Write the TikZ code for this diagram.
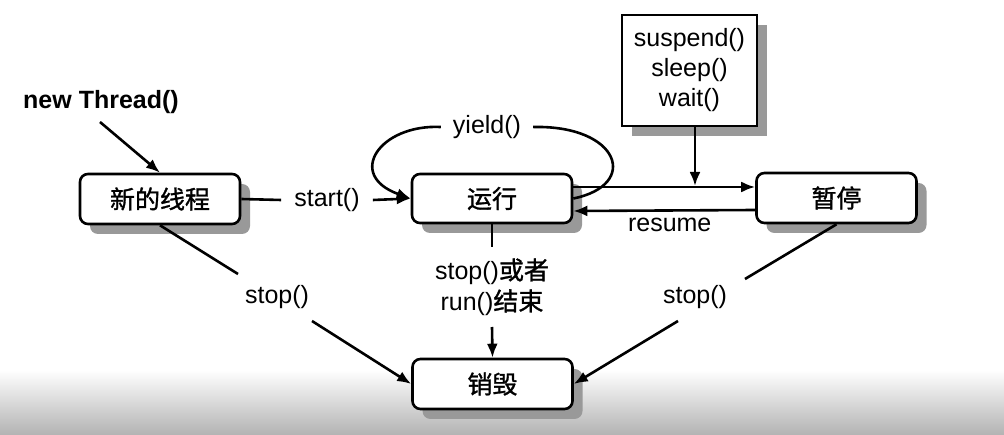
\documentclass[tikz,border=0pt]{standalone}
\usepackage{fontspec}
\setmainfont{Liberation Sans}
\newfontfamily\cjk[FakeBold=1.2]{Noto Sans CJK SC}
\usetikzlibrary{arrows.meta,shadows}
\begin{document}
\begin{tikzpicture}[x=1pt,y=-1pt,
  txt/.style={font=\fontsize{25}{31}\selectfont, inner sep=2pt},
  state/.style={draw, line width=2.6pt, rounded corners=8pt, fill=white,
    minimum width=160pt, minimum height=50pt, font=\cjk\fontsize{25}{30}\selectfont,
    drop shadow={shadow xshift=10pt, shadow yshift=-10pt, fill=black!40, opacity=1}},
  conn/.style={line width=2.6pt},
  arr/.style={conn, -{Latex[length=14pt,width=11pt]}}
]
\fill[white] (0,0) rectangle (1004,435);
\useasboundingbox (0,0) rectangle (1004,435);
\shade[top color=white, bottom color=black!30] (0,370) rectangle (1004,435);

% nodes
\node[state] (new) at (160,199) {新的线程};
\node[state, minimum height=49pt] (run) at (492,198.5) {运行};
\node[state] (pause) at (836.5,198) {暂停};
\node[state] (dead) at (492.5,384) {销毁};
\node[draw, line width=2.6pt, fill=white, minimum width=135pt, minimum height=111pt,
  align=center, font=\fontsize{25}{30}\selectfont,
  drop shadow={shadow xshift=10pt, shadow yshift=-10pt, fill=black!40, opacity=1}]
  (blk) at (689.5,70.5) {suspend()\\sleep()\\wait()};

\node[txt, font=\bfseries\fontsize{25}{30}\selectfont] (nt) at (101,102) {new Thread()};
\coordinate (ntA) at (100,122);
\draw[arr] (ntA) -- (new.north);

% start()
\node[txt, inner xsep=13pt] (st) at (327,200) {start()};
\draw[conn] (new.east) -- (st.west);
\draw[arr] (st.east) -- (run.west);

% yield loop
\node[txt, inner xsep=12pt] (yl) at (487,127) {yield()};
\draw[conn] (run.east) .. controls (640,185) and (620,125) .. (yl.east);
\draw[arr] (yl.west) .. controls (380,124) and (345,175) .. (run.west);

% run -> pause, resume
\draw[arr] ([yshift=11.5pt]run.east) -- ([yshift=11pt]pause.west);
\draw[arr] ([yshift=-12pt]pause.west) -- node[txt, pos=0.47, anchor=north, yshift=-4pt] (rs) {resume} ([yshift=-12.5pt]run.east);
\coordinate (jn) at (695,186);
\draw[arr] (blk.south -| jn) -- (jn);

% stop from new
\node[txt] (s1) at (277,297) {stop()};
\coordinate (s1a) at (238,274);
\coordinate (s1b) at (312,321);
\draw[conn] (new.south) -- (s1a);
\draw[arr] (s1b) -- (dead.west);

% stop from run
\node[txt, align=center] (s2) at (492,287) {stop()\cjk 或者\\run()\cjk 结束};
\coordinate (s2a) at (492,247);
\coordinate (s2b) at (492,327);
\draw[conn] (run.south) -- (s2a);
\draw[arr] (s2b) -- (dead.north);

% stop from pause
\node[txt] (s3) at (695,297) {stop()};
\coordinate (s3a) at (745,279);
\coordinate (s3b) at (678,321);
\draw[conn] (pause.south) -- (s3a);
\draw[arr] (s3b) -- (dead.east);
\end{tikzpicture}
\end{document}
